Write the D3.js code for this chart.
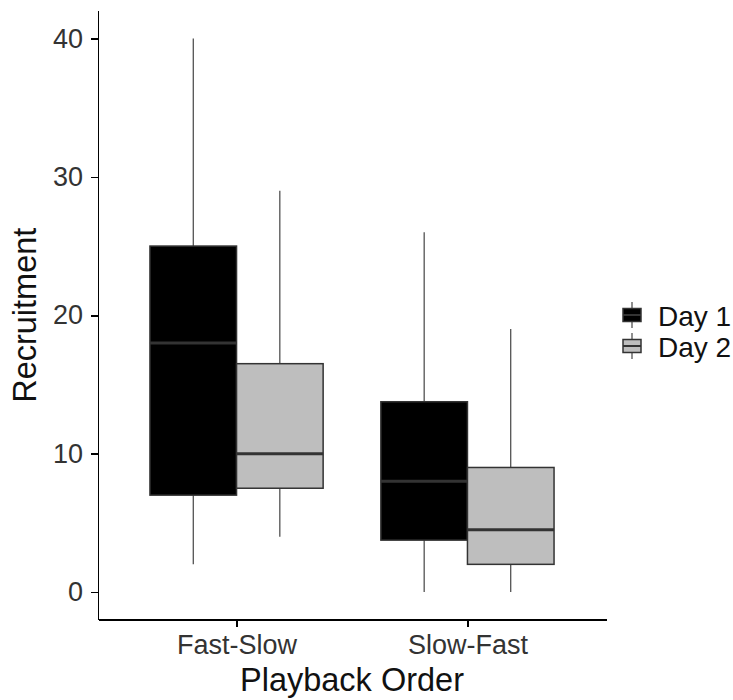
<!DOCTYPE html>
<meta charset="utf-8">
<script src="https://d3js.org/d3.v7.min.js"></script>
<style>
  body { margin: 0; background: #fff; }
  text { font-family: "Liberation Sans", Arial, sans-serif; }
  .axis path, .axis line { stroke: #000; stroke-width: 1.6px; shape-rendering: crispEdges; }
  .axis text { fill: #333; font-size: 27px; }
</style>
<body>
<div id="my_dataviz"></div>
<script>
// playback order on x, one box per day
var categories = ["Fast-Slow", "Slow-Fast"];
var groups = ["Day 1", "Day 2"];
var lowerW = { "Day 1": [2, 0],      "Day 2": [4, 0] };
var q1     = { "Day 1": [7, 3.75],   "Day 2": [7.5, 2] };
var median = { "Day 1": [18, 8],     "Day 2": [10, 4.5] };
var q3     = { "Day 1": [25, 13.75], "Day 2": [16.5, 9] };
var upperW = { "Day 1": [40, 26],    "Day 2": [29, 19] };
var yTicks = [0, 10, 20, 30, 40];
var fills = ["#000000", "#BEBEBE"];

var width = 733, height = 700;
var plotLeft = 98, plotRight = 606, plotTop = 10.8, plotBottom = 619.7;

var svg = d3.select("#my_dataviz").append("svg")
  .attr("width", width)
  .attr("height", height);

// build rows for the boxes
var rows = [];
groups.forEach(function(g) {
  categories.forEach(function(c, i) {
    rows.push({ cat: c, grp: g, lo: lowerW[g][i], q1: q1[g][i], med: median[g][i], q3: q3[g][i], hi: upperW[g][i] });
  });
});

var ymin = d3.min(rows, d => d.lo), ymax = d3.max(rows, d => d.hi);
var pad = (ymax - ymin) * 0.05;
var y = d3.scaleLinear().domain([ymin - pad, ymax + pad]).range([plotBottom, plotTop]);
var x = d3.scalePoint().domain(categories).range([plotLeft, plotRight]).padding(0.6);
var dodgeW = x.step() * 0.75;
var xg = d3.scaleBand().domain(groups).range([-dodgeW / 2, dodgeW / 2]);
var color = d3.scaleOrdinal().domain(groups).range(fills);

// whiskers
svg.append("g").selectAll("line")
  .data(rows).enter().append("line")
  .attr("x1", d => x(d.cat) + xg(d.grp) + xg.bandwidth() / 2)
  .attr("x2", d => x(d.cat) + xg(d.grp) + xg.bandwidth() / 2)
  .attr("y1", d => y(d.lo))
  .attr("y2", d => y(d.hi))
  .attr("stroke", "#333")
  .attr("stroke-width", 1.1);

// boxes
svg.append("g").selectAll("rect")
  .data(rows).enter().append("rect")
  .attr("x", d => x(d.cat) + xg(d.grp))
  .attr("width", xg.bandwidth())
  .attr("y", d => y(d.q3))
  .attr("height", d => y(d.q1) - y(d.q3))
  .attr("fill", d => color(d.grp))
  .attr("stroke", "#333")
  .attr("stroke-width", 1.5);

// medians
svg.append("g").selectAll("line")
  .data(rows).enter().append("line")
  .attr("x1", d => x(d.cat) + xg(d.grp))
  .attr("x2", d => x(d.cat) + xg(d.grp) + xg.bandwidth())
  .attr("y1", d => y(d.med))
  .attr("y2", d => y(d.med))
  .attr("stroke", "#333")
  .attr("stroke-width", 3);

// axes
svg.append("g").attr("class", "axis")
  .attr("transform", "translate(" + plotLeft + ",0)")
  .call(d3.axisLeft(y).tickValues(yTicks).tickSize(7).tickSizeOuter(0).tickPadding(8));
svg.append("g").attr("class", "axis")
  .attr("transform", "translate(0," + plotBottom + ")")
  .call(d3.axisBottom(x).tickSize(7).tickSizeOuter(0).tickPadding(8));

// axis titles
svg.append("text")
  .attr("x", (plotLeft + plotRight) / 2)
  .attr("y", 691)
  .attr("text-anchor", "middle")
  .style("font-size", "32.5px")
  .style("fill", "#111")
  .text("Playback Order");
svg.append("text")
  .attr("transform", "translate(36," + (plotTop + plotBottom) / 2 + ") rotate(-90)")
  .attr("text-anchor", "middle")
  .style("font-size", "32.5px")
  .style("fill", "#111")
  .text("Recruitment");

// legend
var legend = svg.append("g").selectAll("g")
  .data(groups).enter().append("g")
  .attr("transform", (d, i) => "translate(623," + (315 + i * 31) + ")");
legend.append("line")
  .attr("x1", 9).attr("x2", 9).attr("y1", -13).attr("y2", 13)
  .attr("stroke", "#333").attr("stroke-width", 1.1);
legend.append("rect")
  .attr("x", 0).attr("y", -6.5).attr("width", 18).attr("height", 13)
  .attr("fill", d => color(d)).attr("stroke", "#333").attr("stroke-width", 1.5);
legend.append("line")
  .attr("x1", 0).attr("x2", 18).attr("y1", 0).attr("y2", 0)
  .attr("stroke", "#333").attr("stroke-width", 2);
legend.append("text")
  .attr("x", 35).attr("y", 1).attr("dy", "0.35em")
  .style("font-size", "28px")
  .style("fill", "#111")
  .text(d => d);
</script>
</body>
